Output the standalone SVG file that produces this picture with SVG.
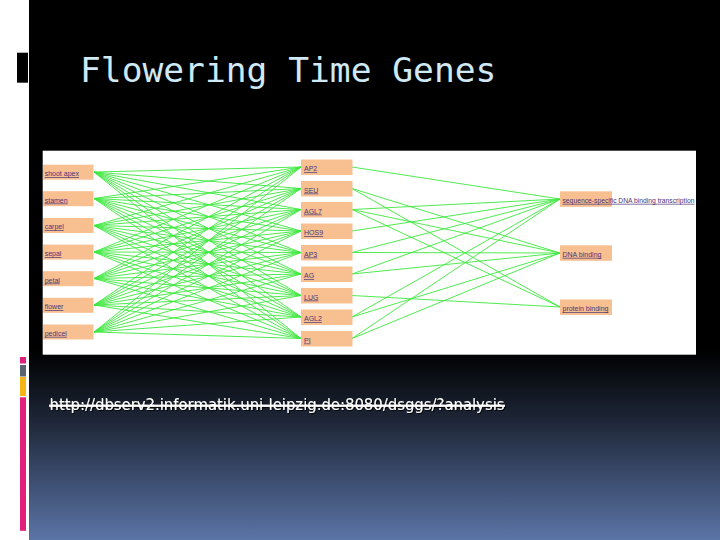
<svg xmlns="http://www.w3.org/2000/svg" width="720" height="540" viewBox="0 0 720 540">
<defs>
<linearGradient id="bg" x1="0" y1="350" x2="0" y2="540" gradientUnits="userSpaceOnUse">
<stop offset="0" stop-color="#000000"/>
<stop offset="0.35" stop-color="#1c2434"/>
<stop offset="1" stop-color="#5b74a6"/>
</linearGradient>
<filter id="sh" x="-5%" y="-50%" width="110%" height="200%">
<feDropShadow dx="1" dy="1" stdDeviation="0.4" flood-color="#000" flood-opacity="0.9"/>
</filter>
</defs>
<style>
.node{fill:#f8bf90}
.lbl{font-family:"Liberation Sans",Arial,sans-serif;font-size:7px;fill:#4a3578;text-decoration:underline}
.e line{stroke:#3ee83e;stroke-width:1;opacity:0.9}
.title{font-family:"DejaVu Sans Mono","Liberation Mono",monospace;font-size:34.6px;fill:#cfe9f7}
.url{font-family:"DejaVu Sans","Liberation Sans",sans-serif;font-size:16px;fill:#ffffff}
</style>
<rect x="0" y="0" width="720" height="540" fill="#ffffff"/>
<rect x="29" y="0" width="691" height="540" fill="url(#bg)"/>
<rect x="17" y="52.7" width="11" height="30" fill="#000000"/>
<rect x="20" y="357" width="6" height="6.5" fill="#e0207a"/>
<rect x="20" y="365" width="6" height="11.5" fill="#596470"/>
<rect x="20" y="377" width="6" height="19" fill="#f7b416"/>
<rect x="20" y="397.3" width="6" height="133.5" fill="#e0207a"/>
<text class="title" x="80" y="82">Flowering Time Genes</text>
<rect x="42.7" y="150.7" width="653.3" height="204" fill="#ffffff"/>
<g class="e" id="connectors">
<line x1="94" y1="172" x2="301" y2="167"/><line x1="94" y1="172" x2="301" y2="188.5"/><line x1="94" y1="172" x2="301" y2="209.5"/><line x1="94" y1="172" x2="301" y2="231"/><line x1="94" y1="172" x2="301" y2="252.5"/><line x1="94" y1="172" x2="301" y2="274"/><line x1="94" y1="172" x2="301" y2="295.5"/><line x1="94" y1="172" x2="301" y2="317"/><line x1="94" y1="172" x2="301" y2="338.5"/>
<line x1="94" y1="198.5" x2="301" y2="167"/><line x1="94" y1="198.5" x2="301" y2="188.5"/><line x1="94" y1="198.5" x2="301" y2="209.5"/><line x1="94" y1="198.5" x2="301" y2="231"/><line x1="94" y1="198.5" x2="301" y2="252.5"/><line x1="94" y1="198.5" x2="301" y2="274"/><line x1="94" y1="198.5" x2="301" y2="295.5"/><line x1="94" y1="198.5" x2="301" y2="317"/><line x1="94" y1="198.5" x2="301" y2="338.5"/>
<line x1="94" y1="225.5" x2="301" y2="167"/><line x1="94" y1="225.5" x2="301" y2="188.5"/><line x1="94" y1="225.5" x2="301" y2="209.5"/><line x1="94" y1="225.5" x2="301" y2="231"/><line x1="94" y1="225.5" x2="301" y2="252.5"/><line x1="94" y1="225.5" x2="301" y2="274"/><line x1="94" y1="225.5" x2="301" y2="295.5"/><line x1="94" y1="225.5" x2="301" y2="317"/><line x1="94" y1="225.5" x2="301" y2="338.5"/>
<line x1="94" y1="252" x2="301" y2="167"/><line x1="94" y1="252" x2="301" y2="188.5"/><line x1="94" y1="252" x2="301" y2="209.5"/><line x1="94" y1="252" x2="301" y2="231"/><line x1="94" y1="252" x2="301" y2="252.5"/><line x1="94" y1="252" x2="301" y2="274"/><line x1="94" y1="252" x2="301" y2="295.5"/><line x1="94" y1="252" x2="301" y2="317"/><line x1="94" y1="252" x2="301" y2="338.5"/>
<line x1="94" y1="278.5" x2="301" y2="167"/><line x1="94" y1="278.5" x2="301" y2="188.5"/><line x1="94" y1="278.5" x2="301" y2="209.5"/><line x1="94" y1="278.5" x2="301" y2="231"/><line x1="94" y1="278.5" x2="301" y2="252.5"/><line x1="94" y1="278.5" x2="301" y2="274"/><line x1="94" y1="278.5" x2="301" y2="295.5"/><line x1="94" y1="278.5" x2="301" y2="317"/><line x1="94" y1="278.5" x2="301" y2="338.5"/>
<line x1="94" y1="305" x2="301" y2="167"/><line x1="94" y1="305" x2="301" y2="188.5"/><line x1="94" y1="305" x2="301" y2="209.5"/><line x1="94" y1="305" x2="301" y2="231"/><line x1="94" y1="305" x2="301" y2="252.5"/><line x1="94" y1="305" x2="301" y2="274"/><line x1="94" y1="305" x2="301" y2="295.5"/><line x1="94" y1="305" x2="301" y2="317"/><line x1="94" y1="305" x2="301" y2="338.5"/>
<line x1="94" y1="332" x2="301" y2="167"/><line x1="94" y1="332" x2="301" y2="188.5"/><line x1="94" y1="332" x2="301" y2="209.5"/><line x1="94" y1="332" x2="301" y2="231"/><line x1="94" y1="332" x2="301" y2="252.5"/><line x1="94" y1="332" x2="301" y2="274"/><line x1="94" y1="332" x2="301" y2="295.5"/><line x1="94" y1="332" x2="301" y2="317"/><line x1="94" y1="332" x2="301" y2="338.5"/>
<line x1="352" y1="167" x2="560" y2="199"/>
<line x1="352" y1="188.5" x2="560" y2="253"/><line x1="352" y1="188.5" x2="560" y2="307"/>
<line x1="352" y1="209.5" x2="560" y2="199"/><line x1="352" y1="209.5" x2="560" y2="253"/><line x1="352" y1="209.5" x2="560" y2="307"/>
<line x1="352" y1="231" x2="560" y2="199"/>
<line x1="352" y1="252.5" x2="560" y2="199"/><line x1="352" y1="252.5" x2="560" y2="253"/>
<line x1="352" y1="274" x2="560" y2="199"/><line x1="352" y1="274" x2="560" y2="253"/>
<line x1="352" y1="295.5" x2="560" y2="307"/>
<line x1="352" y1="317" x2="560" y2="199"/><line x1="352" y1="317" x2="560" y2="253"/>
<line x1="352" y1="338.5" x2="560" y2="199"/><line x1="352" y1="338.5" x2="560" y2="253"/>
</g>
<g id="n-shoot-apex"><rect class="node" x="43" y="164.7" width="50.5" height="15"/><text class="lbl" x="44.7" y="176">shoot apex</text></g>
<g id="n-stamen"><rect class="node" x="43" y="191.2" width="50.5" height="15"/><text class="lbl" x="44.7" y="202.5">stamen</text></g>
<g id="n-carpel"><rect class="node" x="43" y="218" width="50.5" height="15"/><text class="lbl" x="44.7" y="229.3">carpel</text></g>
<g id="n-sepal"><rect class="node" x="43" y="244.6" width="50.5" height="15"/><text class="lbl" x="44.7" y="256">sepal</text></g>
<g id="n-petal"><rect class="node" x="43" y="271.2" width="50.5" height="15"/><text class="lbl" x="44.7" y="282.5">petal</text></g>
<g id="n-flower"><rect class="node" x="43" y="297.8" width="50.5" height="15"/><text class="lbl" x="44.7" y="309">flower</text></g>
<g id="n-pedicel"><rect class="node" x="43" y="324.5" width="50.5" height="15"/><text class="lbl" x="44.7" y="335.8">pedicel</text></g>
<g id="n-AP2"><rect class="node" x="301" y="159.5" width="51.5" height="15.5"/><text class="lbl" x="304" y="171">AP2</text></g>
<g id="n-SEU"><rect class="node" x="301" y="181" width="51.5" height="15.5"/><text class="lbl" x="304" y="192.5">SEU</text></g>
<g id="n-AGL7"><rect class="node" x="301" y="202" width="51.5" height="15.5"/><text class="lbl" x="304" y="213.5">AGL7</text></g>
<g id="n-HOS9"><rect class="node" x="301" y="223.5" width="51.5" height="15.5"/><text class="lbl" x="304" y="235">HOS9</text></g>
<g id="n-AP3"><rect class="node" x="301" y="245" width="51.5" height="15.5"/><text class="lbl" x="304" y="256.5">AP3</text></g>
<g id="n-AG"><rect class="node" x="301" y="266.5" width="51.5" height="15.5"/><text class="lbl" x="304" y="278">AG</text></g>
<g id="n-LUG"><rect class="node" x="301" y="288" width="51.5" height="15.5"/><text class="lbl" x="304" y="299.5">LUG</text></g>
<g id="n-AGL2"><rect class="node" x="301" y="309.5" width="51.5" height="15.5"/><text class="lbl" x="304" y="321">AGL2</text></g>
<g id="n-PI"><rect class="node" x="301" y="331" width="51.5" height="15.5"/><text class="lbl" x="304" y="342.5">PI</text></g>
<g id="n-seq"><rect class="node" x="560" y="191.3" width="52" height="15.5"/><text class="lbl" x="562.5" y="202.8" textLength="132" lengthAdjust="spacingAndGlyphs">sequence-specific DNA binding transcription</text></g>
<g id="n-dna"><rect class="node" x="560" y="245.3" width="52" height="15.5"/><text class="lbl" x="562.5" y="256.8">DNA binding</text></g>
<g id="n-protein"><rect class="node" x="560" y="299.5" width="52" height="15.5"/><text class="lbl" x="562.5" y="311">protein binding</text></g>
<g filter="url(#sh)">
<text class="url" x="49.5" y="409.5" textLength="455" lengthAdjust="spacingAndGlyphs">http://dbserv2.informatik.uni-leipzig.de:8080/dsggs/?analysis</text>
<rect x="49" y="404.6" width="456" height="2.2" fill="#ffffff"/>
</g>
</svg>
